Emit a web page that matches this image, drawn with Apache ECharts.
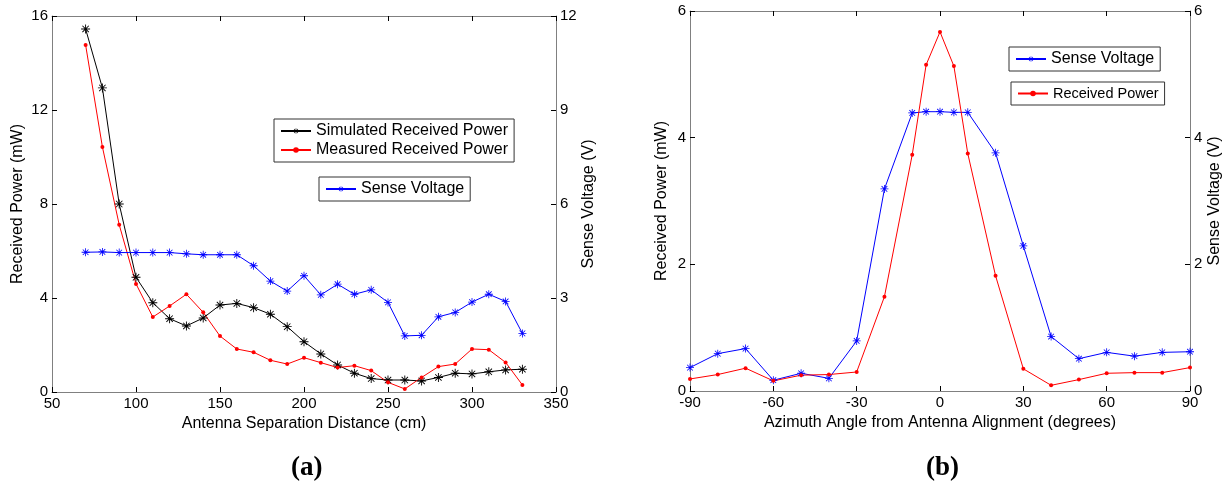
<!DOCTYPE html>
<html>
<head>
<meta charset="utf-8">
<script src="https://cdn.jsdelivr.net/npm/echarts@6/dist/echarts.min.js"></script>
<style>
  html, body { margin: 0; padding: 0; background: #fff; }
  #chart { width: 1231px; height: 490px; }
</style>
</head>
<body>
<div id="chart"></div>
<script>
// (a) distance sweep
var distance = [70, 80, 90, 100, 110, 120, 130, 140, 150, 160, 170, 180, 190, 200,
  210, 220, 230, 240, 250, 260, 270, 280, 290, 300, 310, 320, 330];
var simulatedPower = [15.45, 12.94, 8.0, 4.88, 3.80, 3.12, 2.81, 3.15, 3.70, 3.77, 3.59, 3.31, 2.78, 2.14,
  1.62, 1.15, 0.80, 0.57, 0.51, 0.51, 0.47, 0.62, 0.80, 0.77, 0.86, 0.94, 0.97];
var measuredPower = [14.77, 10.43, 7.12, 4.60, 3.19, 3.66, 4.16, 3.39, 2.38, 1.83, 1.69, 1.35, 1.19, 1.46,
  1.25, 1.04, 1.12, 0.91, 0.41, 0.13, 0.62, 1.08, 1.19, 1.83, 1.80, 1.26, 0.30];
var senseVoltageA = [4.46, 4.47, 4.45, 4.45, 4.45, 4.45, 4.41, 4.38, 4.38, 4.38, 4.03, 3.54, 3.22, 3.71,
  3.10, 3.44, 3.12, 3.26, 2.86, 1.79, 1.81, 2.40, 2.54, 2.87, 3.12, 2.89, 1.87];

// (b) azimuth sweep
var azimuth = [-90, -80, -70, -60, -50, -40, -30, -20, -10, -5, 0, 5, 10, 20, 30, 40, 50, 60, 70, 80, 90];
var senseVoltageB = [0.37, 0.59, 0.67, 0.17, 0.28, 0.20, 0.79, 3.19, 4.39, 4.41, 4.41, 4.40, 4.40,
  3.76, 2.29, 0.86, 0.51, 0.61, 0.55, 0.61, 0.62];
var receivedPowerB = [0.19, 0.26, 0.36, 0.16, 0.25, 0.26, 0.30, 1.49, 3.73, 5.15, 5.67, 5.13, 3.75,
  1.82, 0.35, 0.09, 0.18, 0.28, 0.29, 0.29, 0.37];

function pairs(xs, ys) {
  return xs.map(function (x, i) { return [x, ys[i]]; });
}

var FONT = 'Liberation Sans';
// asterisk marker like matlab '*'
var STAR = 'path://M4.5,0L5.5,0L5.5,10L4.5,10ZM0,4.5L10,4.5L10,5.5L0,5.5ZM1.1,1.8L1.8,1.1L8.9,8.2L8.2,8.9ZM8.2,1.1L8.9,1.8L1.8,8.9L1.1,8.2Z';
var axisGray = '#808080';

function xAxisBox(grid, min, max, step, name, gap) {
  return [{
    type: 'value', gridIndex: grid, position: 'bottom', min: min, max: max, interval: step,
    name: name, nameLocation: 'middle', nameGap: gap,
    nameTextStyle: { fontFamily: FONT, fontSize: 16, color: '#000' },
    axisLine: { show: true, onZero: false, lineStyle: { color: axisGray, width: 1 } },
    axisTick: { inside: true, length: 5, lineStyle: { color: '#000' } },
    axisLabel: { fontFamily: FONT, fontSize: 15, color: '#000', margin: 4 },
    splitLine: { show: false }
  }, {
    type: 'value', gridIndex: grid, position: 'top', min: min, max: max, interval: step,
    axisLine: { show: true, onZero: false, lineStyle: { color: axisGray, width: 1 } },
    axisTick: { inside: true, length: 5, lineStyle: { color: '#000' } },
    axisLabel: { show: false },
    splitLine: { show: false }
  }];
}

function yAxis(grid, pos, max, step, name, gap) {
  return {
    type: 'value', gridIndex: grid, position: pos, min: 0, max: max, interval: step,
    name: name, nameLocation: 'middle', nameGap: gap, nameRotate: 90,
    nameTextStyle: { fontFamily: FONT, fontSize: 16, color: '#000' },
    axisLine: { show: true, onZero: false, lineStyle: { color: axisGray, width: 1 } },
    axisTick: { inside: true, length: 5, lineStyle: { color: '#000' } },
    axisLabel: { fontFamily: FONT, fontSize: 15, color: '#000', margin: 4 },
    splitLine: { show: false }
  };
}

function lineSeries(name, xi, yi, data, color, symbol, size) {
  return {
    name: name, type: 'line', xAxisIndex: xi, yAxisIndex: yi, data: data,
    symbol: symbol, symbolSize: size,
    lineStyle: { color: color, width: 1 },
    itemStyle: { color: color },
    emphasis: { disabled: true }
  };
}

function legendBox(names, left, top, fontSize) {
  return {
    data: names, orient: 'vertical', left: left, top: top,
    padding: [4, 6, 4, 6], itemGap: 3, itemWidth: 30, itemHeight: 7,
    backgroundColor: '#fff', borderColor: '#333', borderWidth: 1,
    textStyle: { fontFamily: FONT, fontSize: fontSize, color: '#000' },
    selectedMode: false
  };
}

var chart = echarts.init(document.getElementById('chart'));
var option = {
  animation: false,
  backgroundColor: '#fff',
  grid: [
    { left: 52, top: 16, width: 504, height: 376 },
    { left: 690, top: 11, width: 500, height: 380 }
  ],
  xAxis: xAxisBox(0, 50, 350, 50, 'Antenna Separation Distance (cm)', 20)
    .concat(xAxisBox(1, -90, 90, 30, 'Azimuth Angle from Antenna Alignment (degrees)', 20)),
  yAxis: [
    yAxis(0, 'left', 16, 4, 'Received Power (mW)', 26),
    yAxis(0, 'right', 12, 3, 'Sense Voltage (V)', 24),
    yAxis(1, 'left', 6, 2, 'Received Power (mW)', 20),
    yAxis(1, 'right', 6, 2, 'Sense Voltage (V)', 17)
  ],
  legend: [
    legendBox(['Simulated Received Power', 'Measured Received Power'], 274, 119, 16),
    legendBox(['Sense Voltage'], 319, 177, 16),
    legendBox(['Sense Voltage'], 1009, 47, 16),
    legendBox(['Received Power'], 1011, 82, 14.5)
  ],
  series: [
    lineSeries('Simulated Received Power', 0, 0, pairs(distance, simulatedPower), '#000', STAR, 9),
    lineSeries('Measured Received Power', 0, 0, pairs(distance, measuredPower), '#ff0000', 'circle', 4),
    lineSeries('Sense Voltage', 0, 1, pairs(distance, senseVoltageA), '#0000ff', STAR, 8),
    lineSeries('Sense Voltage', 2, 3, pairs(azimuth, senseVoltageB), '#0000ff', STAR, 8),
    lineSeries('Received Power', 2, 2, pairs(azimuth, receivedPowerB), '#ff0000', 'circle', 4)
  ],
  title: [
    { text: '{p|(}{b|a}{p|)}', left: 286, top: 450,
      textStyle: { rich: {
        p: { fontFamily: 'Liberation Serif', fontSize: 27, color: '#000' },
        b: { fontFamily: 'Liberation Serif', fontSize: 27, fontWeight: 'bold', color: '#000' } } } },
    { text: '{p|(}{b|b}{p|)}', left: 921, top: 450,
      textStyle: { rich: {
        p: { fontFamily: 'Liberation Serif', fontSize: 27, color: '#000' },
        b: { fontFamily: 'Liberation Serif', fontSize: 27, fontWeight: 'bold', color: '#000' } } } }
  ]
};
chart.setOption(option);
</script>
</body>
</html>
